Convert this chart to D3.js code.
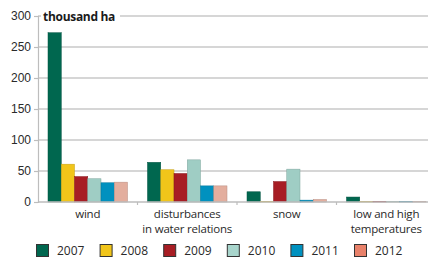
<!DOCTYPE html>
<html>
<head>
<meta charset="utf-8">
<script src="https://cdn.jsdelivr.net/npm/d3@7/dist/d3.min.js"></script>
<style>
  body { margin: 0; background: #fff; }
  svg { display: block; font-family: "Open Sans", sans-serif; }
</style>
</head>
<body>
<svg id="chart" width="428" height="259"></svg>
<script>
// data (thousand ha)
var categories = ["wind", "disturbances|in water relations", "snow", "low and high|temperatures"];
var years = ["2007", "2008", "2009", "2010", "2011", "2012"];
var v2007 = [273, 64, 16.5, 8];
var v2008 = [61, 52, 1, 0.8];
var v2009 = [41, 46, 33, 0.8];
var v2010 = [37.5, 68, 53, 0.8];
var v2011 = [31, 26, 3, 0.8];
var v2012 = [32, 26, 4, 0.8];
var yTicks = [0, 50, 100, 150, 200, 250, 300];

var series = [v2007, v2008, v2009, v2010, v2011, v2012];
var barColors = ["#00674f", "#f1c51a", "#a71d24", "#9fcdc4", "#0091bf", "#e3ae9e"];
var keyColors = ["#00674f", "#f1c51a", "#a71d24", "#a8d5cc", "#0091bf", "#e8816a"];

var svg = d3.select("#chart");

var x0 = d3.scaleBand().domain(categories).range([38, 436]).padding(0);
var x1 = d3.scaleBand().domain(years).range([10, x0.bandwidth() - 10]).padding(0);
var y = d3.scaleLinear().domain([0, 300]).range([202, 16]);

// gridlines
svg.append("g").selectAll("line")
  .data(yTicks.filter(function (d) { return d > 0; }))
  .enter().append("line")
  .attr("x1", 38).attr("x2", 428)
  .attr("y1", function (d) { return y(d); })
  .attr("y2", function (d) { return y(d); })
  .attr("stroke", "#c9c9c9")
  .attr("stroke-width", 1.5);

// y axis
var yAxis = svg.append("g")
  .attr("transform", "translate(38,0)")
  .call(d3.axisLeft(y).tickValues(yTicks).tickSize(4).tickPadding(3));
yAxis.select(".domain").attr("stroke", "#bdbdbd").attr("stroke-width", 1.2);
yAxis.selectAll(".tick line").attr("stroke", "#bdbdbd").attr("stroke-width", 1.2);
yAxis.selectAll("text").attr("font-size", 12).attr("fill", "#2a2a2a");

// unit label over the top gridline
svg.append("rect").attr("x", 41).attr("y", 8).attr("width", 79).attr("height", 16).attr("fill", "#fff");
svg.append("text")
  .attr("x", 43).attr("y", 20.5)
  .attr("font-size", 12).attr("font-weight", "bold").attr("fill", "#1a1a1a")
  .attr("letter-spacing", -0.3)
  .text("thousand ha");

// bars
var groups = svg.append("g").selectAll("g")
  .data(categories)
  .enter().append("g")
  .attr("transform", function (d) { return "translate(" + x0(d) + ",0)"; });

groups.selectAll("rect")
  .data(function (d, i) {
    return years.map(function (yr, j) { return { year: yr, j: j, value: series[j][i] }; });
  })
  .enter().append("rect")
  .attr("x", function (d) { return x1(d.year); })
  .attr("y", function (d) { return y(d.value); })
  .attr("width", x1.bandwidth())
  .attr("height", function (d) { return y(0) - y(d.value); })
  .attr("fill", function (d) { return barColors[d.j]; })
  .attr("stroke", function (d) { return d3.color(barColors[d.j]).darker(0.6); })
  .attr("stroke-width", 0.5);

// x axis
svg.append("line")
  .attr("x1", 38).attr("x2", 428).attr("y1", 202).attr("y2", 202)
  .attr("stroke", "#bdbdbd").attr("stroke-width", 1.5);
svg.append("g").selectAll("line")
  .data(categories.slice(1))
  .enter().append("line")
  .attr("x1", function (d) { return x0(d); })
  .attr("x2", function (d) { return x0(d); })
  .attr("y1", 202).attr("y2", 205)
  .attr("stroke", "#bdbdbd").attr("stroke-width", 1.2);

// category labels
var labels = svg.append("g").selectAll("text")
  .data(categories)
  .enter().append("text")
  .attr("x", function (d) { return x0(d) + x0.bandwidth() / 2; })
  .attr("y", 218)
  .attr("text-anchor", "middle")
  .attr("font-size", 11.5).attr("fill", "#2a2a2a")
  .attr("letter-spacing", -0.2);
labels.each(function (d) {
  var el = d3.select(this);
  d.split("|").forEach(function (part, i) {
    el.append("tspan")
      .attr("x", x0(d) + x0.bandwidth() / 2)
      .attr("dy", i === 0 ? 0 : 15)
      .text(part);
  });
});

// legend
var key = svg.append("g").selectAll("g")
  .data(years)
  .enter().append("g")
  .attr("transform", function (d, i) { return "translate(" + (36 + i * 63.6) + ",244)"; });
key.append("rect")
  .attr("x", 0.5).attr("y", 0.5).attr("width", 12).attr("height", 12)
  .attr("fill", function (d, i) { return keyColors[i]; })
  .attr("stroke", "#333").attr("stroke-width", 1);
key.append("text")
  .attr("x", 21).attr("y", 11)
  .attr("font-size", 12).attr("fill", "#2a2a2a")
  .text(function (d) { return d; });
</script>
</body>
</html>
